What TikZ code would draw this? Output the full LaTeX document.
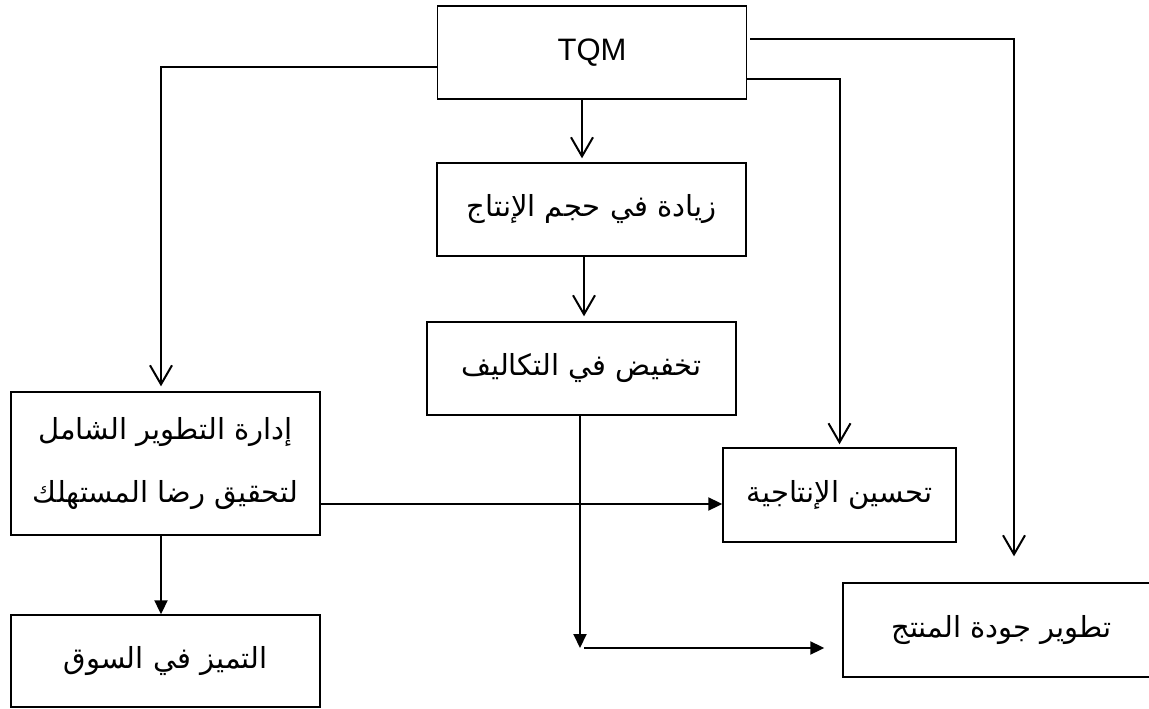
\documentclass[tikz,border=0pt]{standalone}
\usepackage{fontspec}
\setmainfont{Liberation Sans}
\newfontfamily\arabicfont[Script=Arabic]{DejaVu Sans}
\TeXXeTstate=1
\usetikzlibrary{arrows.meta}
\newcommand{\arb}[1]{{\arabicfont\beginR #1\endR}}

\begin{document}
\begin{tikzpicture}[x=1pt,y=-1pt,->,>={Straight Barb[length=19pt,width=22pt]},line width=2pt,
		box/.style={draw,line width=1.4pt,->,-,minimum width=309pt,minimum height=93pt,inner sep=0pt,align=center,font=\fontsize{29}{63}\selectfont},
		filltip/.style={-{Triangle[length=14pt,width=13pt]}}]
		\useasboundingbox (0,0) rectangle (1149,709);
		
		\node[box,font=\fontsize{31}{36}\selectfont] (tqm) at (592,52.5) {TQM};
		\node[box] (ziyada) at (591.5,209.5) {\arb{زيادة في حجم الإنتاج}};
		\node[box] (takhfid) at (581.5,368.5) {\arb{تخفيض في التكاليف}};
		\node[box,minimum height=143pt] (idara) at (165.5,463.5) {\arb{إدارة التطوير الشامل}\\\arb{لتحقيق رضا المستهلك}};
		\node[box,minimum height=92pt] (tamayuz) at (165.5,661) {\arb{التميز في السوق}};
		\node[box,minimum width=233pt,minimum height=94pt] (tahsin) at (839.5,495) {\arb{تحسين الإنتاجية}};
		\node[box,minimum width=317pt,minimum height=94pt] (tatwir) at (1001.5,630) {\arb{تطوير جودة المنتج}};
		\coordinate (corner) at (580,648);
		
		% from TQM
		\draw[shorten >=4pt] ([xshift=-10pt]tqm.south) -- ([xshift=-10pt]tqm.south |- ziyada.north);
		\draw[shorten >=5pt] ([yshift=-14.5pt]tqm.west) -| ([xshift=-4.5pt]idara.north);
		\draw[shorten >=3pt] ([yshift=-26.5pt]tqm.east) -| (tahsin.north);
		\draw[shorten >=26pt] ([xshift=3pt,yshift=13.5pt]tqm.east) -| ([xshift=12.5pt]tatwir.north);
		\draw[shorten >=5pt] ([xshift=-7.5pt]ziyada.south) -- ([xshift=-7.5pt]ziyada.south |- takhfid.north);
		
		\draw[filltip] ([xshift=-4.5pt]idara.south) -- ([xshift=-4.5pt]tamayuz.north);
		\draw[filltip] ([yshift=-40.5pt]idara.east) -- ([yshift=-40.5pt]idara.east -| tahsin.west);
		\draw[filltip] (takhfid.south -| corner) -- (corner);
		\draw[filltip,shorten >=18pt] ([xshift=4pt]corner) -- (corner -| tatwir.west);
		
\end{tikzpicture}
\end{document}
